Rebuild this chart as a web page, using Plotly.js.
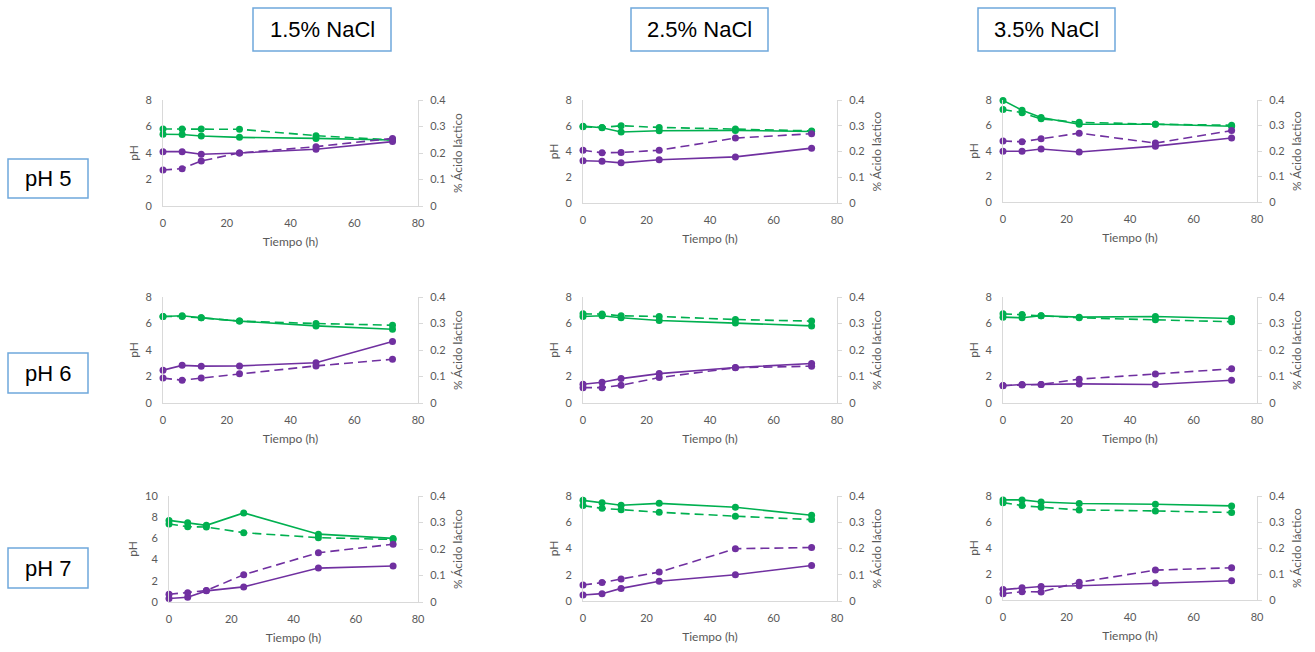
<!DOCTYPE html>
<html>
<head>
<meta charset="utf-8">
<script src="https://cdn.plot.ly/plotly-3.0.1.min.js"></script>
<style>
  html, body { margin: 0; padding: 0; background: #ffffff; }
  #chart { width: 1315px; height: 652px; }
</style>
</head>
<body>
<div id="chart"></div>
<script>
// Sampling times (h)
const hours = [0, 6, 12, 24, 48, 72];

// Column and row headings
const saltLabels = ['1.5% NaCl', '2.5% NaCl', '3.5% NaCl'];
const phLabels = ['pH 5', 'pH 6', 'pH 7'];

// pH 5
const ph_p5_n15_a = [5.41, 5.40, 5.28, 5.18, 5.10, 4.98];
const ph_p5_n15_b = [5.81, 5.81, 5.81, 5.79, 5.31, 4.98];
const lac_p5_n15_a = [0.205, 0.205, 0.195, 0.200, 0.214, 0.243];
const lac_p5_n15_b = [0.136, 0.141, 0.170, 0.200, 0.224, 0.255];

const ph_p5_n25_a = [5.97, 5.84, 5.51, 5.61, 5.64, 5.55];
const ph_p5_n25_b = [5.92, 5.87, 6.00, 5.87, 5.74, 5.60];
const lac_p5_n25_a = [0.164, 0.162, 0.156, 0.168, 0.179, 0.213];
const lac_p5_n25_b = [0.205, 0.195, 0.196, 0.205, 0.252, 0.269];

const ph_p5_n35_a = [7.97, 7.20, 6.62, 6.10, 6.10, 5.94];
const ph_p5_n35_b = [7.26, 7.00, 6.52, 6.25, 6.10, 6.02];
const lac_p5_n35_a = [0.199, 0.199, 0.208, 0.196, 0.219, 0.251];
const lac_p5_n35_b = [0.239, 0.236, 0.248, 0.270, 0.231, 0.280];

// pH 6
const ph_p6_n15_a = [6.53, 6.58, 6.43, 6.18, 5.82, 5.57];
const ph_p6_n15_b = [6.53, 6.53, 6.43, 6.18, 6.00, 5.87];
const lac_p6_n15_a = [0.124, 0.142, 0.139, 0.140, 0.152, 0.232];
const lac_p6_n15_b = [0.094, 0.086, 0.094, 0.110, 0.140, 0.165];

const ph_p6_n25_a = [6.53, 6.58, 6.43, 6.23, 6.03, 5.82];
const ph_p6_n25_b = [6.73, 6.71, 6.58, 6.53, 6.30, 6.18];
const lac_p6_n25_a = [0.071, 0.078, 0.092, 0.111, 0.134, 0.149];
const lac_p6_n25_b = [0.058, 0.058, 0.067, 0.096, 0.133, 0.139];

const ph_p6_n35_a = [6.48, 6.43, 6.58, 6.48, 6.53, 6.38];
const ph_p6_n35_b = [6.73, 6.68, 6.58, 6.43, 6.28, 6.13];
const lac_p6_n35_a = [0.065, 0.070, 0.070, 0.072, 0.070, 0.086];
const lac_p6_n35_b = [0.066, 0.068, 0.070, 0.090, 0.109, 0.129];

// pH 7
const ph_p7_n15_a = [7.70, 7.48, 7.23, 8.40, 6.40, 6.00];
const ph_p7_n15_b = [7.36, 7.10, 7.07, 6.54, 6.07, 5.90];
const lac_p7_n15_a = [0.013, 0.018, 0.042, 0.057, 0.128, 0.136];
const lac_p7_n15_b = [0.029, 0.035, 0.043, 0.103, 0.186, 0.218];

const ph_p7_n25_a = [7.67, 7.49, 7.29, 7.44, 7.14, 6.53];
const ph_p7_n25_b = [7.27, 7.06, 6.96, 6.76, 6.46, 6.20];
const lac_p7_n25_a = [0.023, 0.028, 0.048, 0.075, 0.100, 0.135];
const lac_p7_n25_b = [0.061, 0.070, 0.084, 0.110, 0.199, 0.204];

const ph_p7_n35_a = [7.70, 7.70, 7.54, 7.42, 7.37, 7.24];
const ph_p7_n35_b = [7.49, 7.26, 7.14, 6.93, 6.85, 6.73];
const lac_p7_n35_a = [0.040, 0.047, 0.052, 0.055, 0.065, 0.074];
const lac_p7_n35_b = [0.024, 0.032, 0.031, 0.068, 0.115, 0.124];

// Left-axis maximum for each row/column panel
const phAxisMax = [8, 8, 8, 8, 8, 8, 10, 8, 8];

const panels = [
  [ph_p5_n15_a, ph_p5_n15_b, lac_p5_n15_a, lac_p5_n15_b],
  [ph_p5_n25_a, ph_p5_n25_b, lac_p5_n25_a, lac_p5_n25_b],
  [ph_p5_n35_a, ph_p5_n35_b, lac_p5_n35_a, lac_p5_n35_b],
  [ph_p6_n15_a, ph_p6_n15_b, lac_p6_n15_a, lac_p6_n15_b],
  [ph_p6_n25_a, ph_p6_n25_b, lac_p6_n25_a, lac_p6_n25_b],
  [ph_p6_n35_a, ph_p6_n35_b, lac_p6_n35_a, lac_p6_n35_b],
  [ph_p7_n15_a, ph_p7_n15_b, lac_p7_n15_a, lac_p7_n15_b],
  [ph_p7_n25_a, ph_p7_n25_b, lac_p7_n25_a, lac_p7_n25_b],
  [ph_p7_n35_a, ph_p7_n35_b, lac_p7_n35_a, lac_p7_n35_b]
];

// Page geometry in pixels
const W = 1315, H = 652;
const plotBox = [
  [163, 418, 100, 206], [583, 837, 100, 203], [1003, 1257, 100, 202],
  [163, 418, 297, 403], [583, 837, 297, 403], [1003, 1257, 297, 403],
  [169, 418, 496, 602], [583, 837, 496, 601], [1003, 1257, 496, 600]
];

const GREEN = '#00b050';
const PURPLE = '#7030a0';
const AXIS = '#d9d9d9';
const TICK = '#595959';
const FONT = 'Lato, "Open Sans", sans-serif';

const traces = [];
const layout = {
  width: W, height: H,
  margin: {l: 0, r: 0, t: 0, b: 0},
  paper_bgcolor: '#ffffff',
  plot_bgcolor: 'rgba(0,0,0,0)',
  showlegend: false,
  font: {family: FONT, size: 11, color: TICK},
  shapes: [],
  annotations: []
};

function px2x(p) { return p / W; }
function px2y(p) { return 1 - p / H; }

const tickFont = {family: FONT, size: 11, color: TICK};
const titleFont = {family: FONT, size: 12, color: TICK};

panels.forEach((series, i) => {
  const n = i + 1;
  const xName = n === 1 ? 'x' : 'x' + n;
  const yName = n === 1 ? 'y' : 'y' + n;
  const y2Name = 'y' + (n + 9);
  const [x0, x1, y0, y1] = plotBox[i];

  const line = (c, dash) => ({color: c, width: 1.6, dash: dash});
  const mk = c => ({color: c, size: 7});
  const base = {x: hours, mode: 'lines+markers', cliponaxis: false, hoverinfo: 'x+y'};

  traces.push(Object.assign({}, base, {y: series[0], xaxis: xName, yaxis: yName,
    line: line(GREEN, 'solid'), marker: mk(GREEN)}));
  traces.push(Object.assign({}, base, {y: series[1], xaxis: xName, yaxis: yName,
    line: line(GREEN, '9px,5px'), marker: mk(GREEN)}));
  traces.push(Object.assign({}, base, {y: series[2], xaxis: xName, yaxis: y2Name,
    line: line(PURPLE, 'solid'), marker: mk(PURPLE)}));
  traces.push(Object.assign({}, base, {y: series[3], xaxis: xName, yaxis: y2Name,
    line: line(PURPLE, '9px,5px'), marker: mk(PURPLE)}));

  const xKey = n === 1 ? 'xaxis' : 'xaxis' + n;
  const yKey = n === 1 ? 'yaxis' : 'yaxis' + n;
  const y2Key = 'yaxis' + (n + 9);

  layout[xKey] = {
    domain: [px2x(x0), px2x(x1)],
    anchor: yName,
    range: [0, 80], dtick: 20, tick0: 0,
    showgrid: false, zeroline: false,
    showline: true, linecolor: AXIS, linewidth: 1,
    ticks: '', ticklabelstandoff: 7,
    tickfont: tickFont,
    title: {text: 'Tiempo (h)', font: titleFont, standoff: 9},
    fixedrange: true
  };
  layout[yKey] = {
    domain: [px2y(y1), px2y(y0)],
    anchor: xName,
    range: [0, phAxisMax[i]], dtick: 2, tick0: 0,
    showgrid: false, zeroline: false,
    showline: true, linecolor: AXIS, linewidth: 1,
    ticks: '', ticklabelstandoff: 8,
    tickfont: tickFont,
    title: {text: 'pH', font: titleFont, standoff: 4},
    fixedrange: true
  };
  layout[y2Key] = {
    overlaying: yName,
    anchor: xName,
    side: 'right',
    range: [0, 0.4], dtick: 0.1, tick0: 0,
    showgrid: false, zeroline: false,
    showline: true, linecolor: AXIS, linewidth: 1,
    ticks: 'outside', ticklen: 4, tickcolor: AXIS, ticklabelstandoff: 5,
    tickfont: tickFont,
    title: {text: '% Ácido láctico', font: titleFont, standoff: 8},
    fixedrange: true
  };
});

// Boxed headings: salt concentration above columns, pH beside rows
const BOX = '#6fa8dc';
const headBoxes = [[253, 391], [631, 768], [978, 1115]];
saltLabels.forEach((t, k) => {
  const [a, b] = headBoxes[k];
  layout.shapes.push({type: 'rect', xref: 'paper', yref: 'paper',
    x0: px2x(a), x1: px2x(b), y0: px2y(51), y1: px2y(8),
    line: {color: BOX, width: 1.5}, fillcolor: 'rgba(0,0,0,0)'});
  layout.annotations.push({xref: 'paper', yref: 'paper',
    x: px2x((a + b) / 2), y: px2y(29.5), text: t, showarrow: false,
    xanchor: 'center', yanchor: 'middle',
    font: {family: '"Liberation Sans", Arial, sans-serif', size: 22, color: '#000000'}});
});
const sideBoxes = [[159, 198], [353, 393], [548, 588]];
phLabels.forEach((t, k) => {
  const [a, b] = sideBoxes[k];
  layout.shapes.push({type: 'rect', xref: 'paper', yref: 'paper',
    x0: px2x(8), x1: px2x(88), y0: px2y(b), y1: px2y(a),
    line: {color: BOX, width: 1.5}, fillcolor: 'rgba(0,0,0,0)'});
  layout.annotations.push({xref: 'paper', yref: 'paper',
    x: px2x(48), y: px2y((a + b) / 2), text: t, showarrow: false,
    xanchor: 'center', yanchor: 'middle',
    font: {family: '"Liberation Sans", Arial, sans-serif', size: 22, color: '#000000'}});
});

Plotly.newPlot('chart', traces, layout, {displayModeBar: false, staticPlot: true});
</script>
</body>
</html>
